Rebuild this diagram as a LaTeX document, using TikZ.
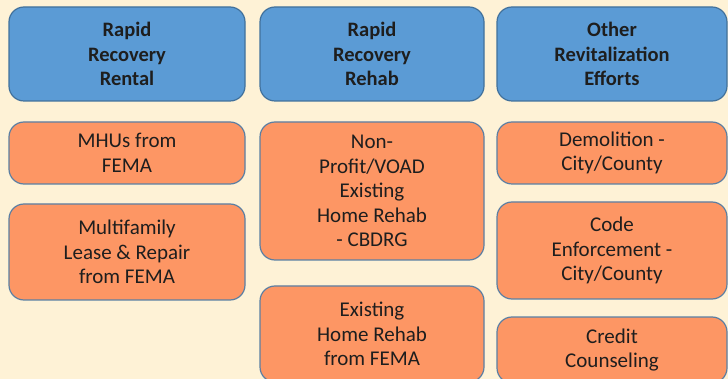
\documentclass[tikz,border=0pt]{standalone}
\usepackage{fontspec}
\setmainfont{Carlito}
\definecolor{bg}{HTML}{FEF2D6}
\definecolor{hblue}{HTML}{5B9BD5}
\definecolor{hborder}{HTML}{41719C}
\definecolor{obox}{HTML}{FD9664}
\definecolor{oborder}{HTML}{5B7FA3}
\definecolor{txt}{HTML}{1E1E1E}
\tikzset{
  basebox/.style={rounded corners=15pt, line width=1.2pt, inner sep=0pt, align=center,
    text=txt, font=\fontsize{21}{24.5}\selectfont},
  headbox/.style={basebox, fill=hblue, draw=hborder, font=\fontsize{20.5}{24.5}\selectfont\bfseries},
  itembox/.style={basebox, fill=obox, draw=oborder},
}
\begin{document}
\begin{tikzpicture}[x=1pt,y=-1pt]
\useasboundingbox (0,0) rectangle (728,379);
\fill[bg] (0,0) rectangle (728,379);
\clip (0,0) rectangle (728,379);
% column 1
\node[headbox, minimum width=236pt, minimum height=94pt] (h1) at (127,54) {Rapid\\Recovery\\Rental};
\node[itembox, minimum width=236pt, minimum height=62pt] (a1) at (127,153) {MHUs from\\FEMA};
\node[itembox, minimum width=236pt, minimum height=96pt] (a2) at (127,252) {Multifamily\\Lease \& Repair\\from FEMA};
% column 2
\node[headbox, minimum width=224pt, minimum height=94pt] (h2) at (372,54) {Rapid\\Recovery\\Rehab};
\node[itembox, minimum width=224pt, minimum height=138pt] (b1) at (372,191) {Non-\\Profit/VOAD\\Existing\\Home Rehab\\- CBDRG};
\node[itembox, minimum width=224pt, minimum height=96pt] (b2) at (372,334) {Existing\\Home Rehab\\from FEMA};
% column 3
\node[headbox, minimum width=230pt, minimum height=94pt] (h3) at (612,54) {Other\\Revitalization\\Efforts};
\node[itembox, minimum width=230pt, minimum height=62pt] (c1) at (612,153) {Demolition -\\City/County};
\node[itembox, minimum width=230pt, minimum height=97pt] (c2) at (612,250.5) {Code\\Enforcement -\\City/County};
\node[itembox, minimum width=230pt, minimum height=66pt] (c3) at (612,350) {Credit\\Counseling};
\end{tikzpicture}
\end{document}
